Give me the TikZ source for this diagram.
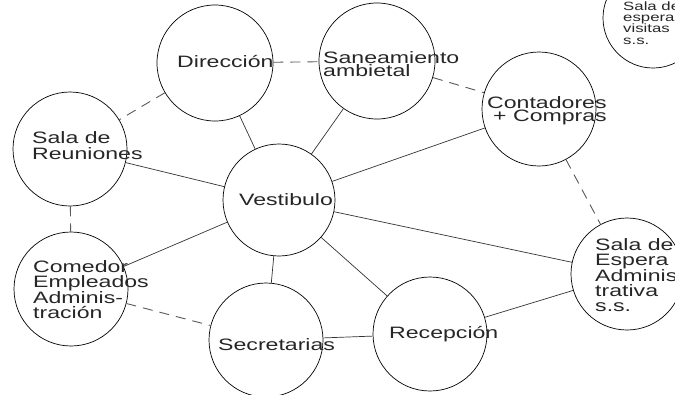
\documentclass[tikz,border=0pt]{standalone}
\usepackage{fontspec}
\setmainfont{Liberation Sans}[FakeStretch=1.4]
\begin{document}
\begin{tikzpicture}[x=1bp,y=-1bp,
  room/.style={circle,draw=black,line width=0.7bp,inner sep=0pt,minimum size=#1},
  room/.default=114bp,
  lbl/.style={inner sep=0pt,align=left,anchor=north west,
    font={\fontsize{16.5bp}{15bp}\selectfont},text=black!85},
  lblone/.style={inner sep=0pt,anchor=base west,
    font={\fontsize{16.5bp}{15bp}\selectfont},text=black!85},
  wall/.style={draw=black!80,line width=0.7bp},
  link/.style={draw=black!65,line width=0.9bp,dash pattern=on 10bp off 7bp}]
\useasboundingbox (0,0) rectangle (675,394);

% rooms
\node[room=116bp] (dir) at (215,63) {};
\node[room=116bp] (san) at (377,61) {};
\node[room=114bp] (con) at (539,109) {};
\node[room=100bp] (vis) at (653,18) {};
\node[room=114bp] (reu) at (70,149) {};
\node[room=112bp] (ves) at (279,200) {};
\node[room=114bp] (com) at (71,289) {};
\node[room=114bp] (sec) at (266,340) {};
\node[room=114bp] (rec) at (430,334) {};
\node[room=112bp] (esp) at (627,274) {};

% labels
\node[lblone] (tdir) at (177,67) {Dirección};
\node[lbl,font={\fontsize{16.5bp}{10.7bp}\selectfont}] (tsan) at (323,51.5) {Saneamiento\\ambietal};
\node[lbl,font={\fontsize{16.5bp}{12.5bp}\selectfont}] (tcon) at (487,96.5) {Contadores\\\hspace*{6bp}+ Compras};
\node[lbl,font={\fontsize{12bp}{11.3bp}\selectfont}] (tvis) at (623,1.3) {Sala de\\espera\\visitas\\s.s.};
\node[lbl,font={\fontsize{16.5bp}{16bp}\selectfont}] (treu) at (32,131) {Sala de\\Reuniones};
\node[lblone] (tves) at (239,205) {Vestibulo};
\node[lbl] (tcom) at (33,260) {Comedor\\Empleados\\Adminis-\\tración};
\node[lblone] (tsec) at (218,350) {Secretarias};
\node[lblone] (trec) at (389,338) {Recepción};
\node[lbl] (tesp) at (595,238) {Sala de\\Espera\\Adminis-\\trativa\\s.s.};

% dashed links
\draw[link] (dir) -- (san);
\draw[link] (dir) -- (reu);
\draw[link] (san) -- (con);
\draw[link] (con) -- (esp);
\draw[link] (reu) -- (com);
\draw[link] (com) -- (sec);

% solid links
\draw[wall] (dir) -- (ves);
\draw[wall] (san) -- (ves);
\draw[wall] (con) -- (ves);
\draw[wall] (reu) -- (ves);
\draw[wall] (com) -- (ves);
\draw[wall] (ves) -- (sec);
\draw[wall] (ves) -- (rec);
\draw[wall] (ves) -- (esp);
\draw[wall] (sec) -- (rec);
\draw[wall] (rec) -- (esp);
\end{tikzpicture}
\end{document}
